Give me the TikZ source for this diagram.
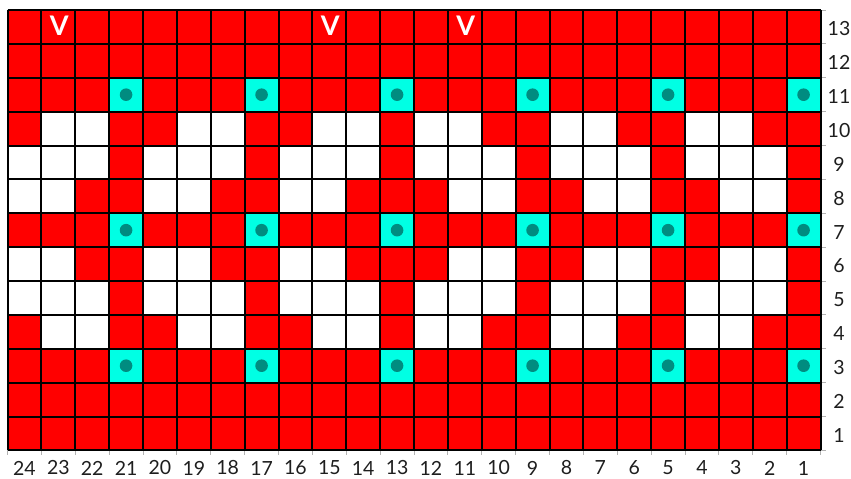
\documentclass[tikz,border=0pt]{standalone}
\usepackage{fontspec}
\setmainfont{Lato}
\definecolor{kred}{RGB}{255,0,0}
\definecolor{kcyan}{RGB}{0,255,228}
\definecolor{kdot}{RGB}{0,140,128}
\definecolor{klbl}{RGB}{30,30,30}
\newcommand\cs{33.875}
\newcommand\kcell[3]{\fill[#3] ({7.5+(24-#1)*\cs},{10+(13-#2)*\cs}) rectangle ++(\cs,\cs);}
\tikzset{
  gridline/.style={black,line width=2pt},
  tickline/.style={gray!60,line width=0.8pt},
  lbl/.style={text=klbl,font=\fontsize{19.5}{21}\selectfont,inner sep=0pt},
  vmark/.style={text=white,font=\fontsize{27}{28}\selectfont\bfseries,inner sep=0pt},
  dotmark/.style={circle,fill=kdot,minimum size=12.6pt,inner sep=0pt}
}
\begin{document}
\begin{tikzpicture}[x=1pt,y=-1pt]
\useasboundingbox (0,0) rectangle (851,479);
% base red
\fill[kred] (7.5,10) rectangle ({7.5+24*\cs},{10+13*\cs});
% rows 10 and 4
\foreach \r in {10,4}{\foreach \c in {23,22,19,18,15,14,12,11,8,7,4,3}{\kcell{\c}{\r}{white}}}
% rows 9 and 5
\foreach \r in {9,5}{\foreach \c in {24,23,22,20,19,18,16,15,14,12,11,10,8,7,6,4,3,2}{\kcell{\c}{\r}{white}}}
% rows 8 and 6
\foreach \r in {8,6}{\foreach \c in {24,23,20,19,16,15,11,10,7,6,3,2}{\kcell{\c}{\r}{white}}}
% cyan cells
\foreach \r in {11,7,3}{\foreach \c in {21,17,13,9,5,1}{\kcell{\c}{\r}{kcyan}}}
% ticks
\foreach \i in {0,...,24}{\draw[tickline] ({7.5+\i*\cs},{10+13*\cs}) -- ++(0,5);}
\foreach \j in {0,...,13}{\draw[tickline] ({7.5+24*\cs},{10+\j*\cs}) -- ++(5,0);}
% grid
\foreach \i in {0,...,24}{\draw[gridline] ({7.5+\i*\cs},10) -- ({7.5+\i*\cs},{10+13*\cs});}
\foreach \j in {0,...,13}{\draw[gridline] (7.5,{10+\j*\cs}) -- ({7.5+24*\cs},{10+\j*\cs});}
% dots
\foreach \r in {11,7,3}{\foreach \c in {21,17,13,9,5,1}{
  \node[dotmark] (d\c-\r) at ({7.5+(24-\c+0.5)*\cs},{10+(13-\r+0.5)*\cs}) {};}}
% V marks
\foreach \c in {23,15,11}{
  \node[vmark] (v\c) at ({7.5+(24-\c+0.5)*\cs+1},{10+0.5*\cs-1.5}) {V};}
% labels
\foreach \c in {1,...,24}{
  \node[lbl] (b\c) at ({7.5+(24-\c+0.5)*\cs},468) {\c};}
\foreach \r in {1,...,13}{
  \node[lbl] (r\r) at (839,{10+(13-\r+0.5)*\cs+2}) {\r};}
\end{tikzpicture}
\end{document}
